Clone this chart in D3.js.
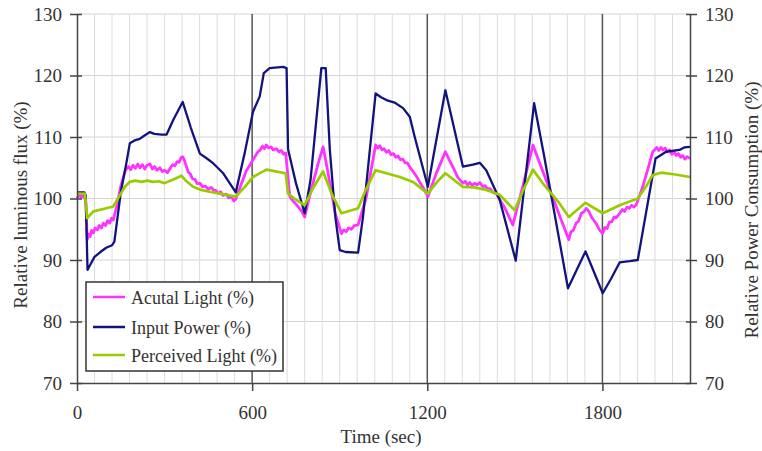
<!DOCTYPE html>
<html>
<head>
<meta charset="utf-8">
<script src="https://cdn.jsdelivr.net/npm/d3@7/dist/d3.min.js"></script>
<style>
  html, body { margin: 0; padding: 0; background: #fff; }
  svg { display: block; }
  text { font-family: "Liberation Serif", "DejaVu Serif", serif; fill: #333; }
</style>
</head>
<body>
<svg id="chart" width="762" height="451"></svg>
<script>
// Time axis (seconds) and value axis ticks
const xTicks = [0, 600, 1200, 1800];
const yTicks = [70, 80, 90, 100, 110, 120, 130];
const minorStep = 60;

// Series: [time (sec), value (%)]
const actualLight = [
  [0,100],[8,100.6],[15,100.2],[22,100.8],[30,99.5],[35,93.3],[40,94.2],[45,93.8],[50,94.8],[56,94.4],
  [62,95.2],[70,94.9],[76,95.6],[84,95.2],[90,96.0],[98,95.6],[105,96.4],[112,96.0],[118,96.8],[124,96.5],
  [135,98.5],[150,102],[165,104.5],[176,105.2],[184,104.7],[192,105.4],[200,104.9],[208,105.6],[216,105.0],
  [224,105.5],[232,104.8],[240,105.4],[250,105.6],[258,104.8],[266,105.2],[274,104.6],[284,105.0],
  [292,104.4],[300,104.6],[310,104.2],[320,105.0],[328,105.5],[335,105.3],[343,106.0],[350,105.9],
  [356,106.6],[362,106.8],[368,106.2],[374,105.3],[381,104.3],[388,104.0],[396,103.2],[404,103.1],
  [412,102.4],[421,102.5],[430,101.9],[440,102.0],[450,101.5],[460,101.8],[467,101.4],[476,101.3],
  [484,100.8],[492,101.1],[500,100.5],[512,100.7],[520,100.1],[530,100.3],[537,99.6],[544,99.9],
  [560,102],[580,104.5],[592,105.4],[603,106.3],[612,107],[620,107.6],[628,107.9],[635,108.5],[642,108.1],
  [649,108.7],[656,108.2],[665,108.4],[672,107.9],[683,108.1],[692,107.6],[700,107.8],[708,107.2],
  [715,107.4],[729,100.3],[740,99.6],[750,99.1],[760,98.5],[770,97.9],[780,97],[800,101],[825,105.5],
  [843,108.4],[855,105.5],[866,102.5],[885,97.5],[906,94.3],[914,94.9],[922,94.6],[930,95.2],[940,95.0],
  [950,95.6],[963,95.7],[990,100],[1023,108.7],[1030,108.2],[1037,108.6],[1045,107.9],[1052,108.1],
  [1060,107.5],[1068,107.8],[1076,107.1],[1084,107.3],[1092,106.7],[1100,106.9],[1108,106.3],[1116,106.4],
  [1124,105.8],[1132,105.8],[1140,105.1],[1151,104.4],[1163,103.6],[1175,102.6],[1188,101.6],[1202,100.3],
  [1230,104],[1262,107.6],[1276,106.2],[1290,104.9],[1305,103.4],[1322,102.5],[1330,102.8],[1338,102.2],
  [1346,102.6],[1354,102.1],[1362,102.5],[1370,102.2],[1380,102.6],[1390,101.9],[1398,102.1],[1405,101.6],
  [1415,101.6],[1425,101.0],[1436,100.8],[1465,98.5],[1493,95.7],[1530,102.5],[1562,108.7],[1580,106.4],
  [1600,103.9],[1620,101.4],[1640,98.9],[1660,96.4],[1685,93.3],[1692,94.6],[1700,94.8],[1710,96],
  [1718,96.3],[1728,97.6],[1736,97.8],[1745,98.4],[1755,97.8],[1762,97.0],[1770,96.5],[1780,95.8],
  [1790,94.9],[1801,94.3],[1808,95.3],[1816,95.1],[1824,96.2],[1832,96.2],[1840,97.0],[1848,96.9],
  [1859,97.6],[1868,98.2],[1876,97.9],[1884,98.6],[1892,98.4],[1900,98.9],[1908,98.6],[1916,99.0],
  [1938,101.9],[1960,105.5],[1972,107.6],[1979,107.9],[1986,108.3],[1993,107.8],[2000,108.3],[2007,107.9],
  [2015,108.2],[2022,107.6],[2030,107.9],[2038,107.2],[2046,107.5],[2053,107.0],[2060,107.3],[2068,106.7],
  [2075,107.0],[2083,106.4],[2090,106.8],[2100,106.5]
];

const inputPower = [
  [0,101],[25,101],[30,100.5],[36,88.4],[45,89.2],[60,90.5],[80,91.3],[100,92],[120,92.4],[128,93],
  [150,101],[170,106],[181,109],[200,109.5],[215,109.7],[230,110.2],[250,110.8],[265,110.5],[290,110.4],
  [307,110.4],[330,112.8],[362,115.7],[390,111.5],[421,107.3],[445,106.5],[467,105.7],[501,104.1],
  [544,101],[575,107.5],[603,114.1],[626,116.6],[640,120.4],[660,121.2],[706,121.4],[718,121.2],
  [723,108],[750,102.5],[780,97.6],[800,103],[837,121.2],[852,121.2],[866,108],[885,97],[900,91.6],
  [920,91.3],[963,91.2],[980,97.1],[1023,117.1],[1040,116.5],[1060,116],[1088,115.6],[1117,114.7],
  [1140,113.3],[1157,110],[1202,101.9],[1262,117.6],[1322,105.2],[1356,105.5],[1380,105.8],[1402,104.6],
  [1448,99.8],[1503,89.9],[1566,115.5],[1600,107],[1682,85.4],[1742,91.4],[1801,84.6],[1830,87],
  [1859,89.6],[1893,89.8],[1921,90],[1982,106.5],[2018,107.6],[2064,107.9],[2080,108.3],[2100,108.4]
];

const perceivedLight = [
  [0,100.8],[27,100.8],[35,96.8],[56,97.9],[90,98.3],[124,98.7],[150,100.8],[164,101.9],[181,102.7],
  [200,102.9],[220,102.7],[240,102.9],[260,102.7],[280,102.8],[300,102.5],[330,103.1],[358,103.7],
  [375,102.8],[398,101.9],[425,101.4],[455,101.1],[500,100.7],[544,100.3],[575,101.9],[603,103.5],
  [630,104.2],[649,104.7],[680,104.4],[715,104.1],[723,100.8],[750,99.8],[780,98.9],[810,101.8],
  [843,104.4],[875,100.5],[906,97.6],[935,98],[963,98.4],[990,101.5],[1023,104.6],[1060,104.1],
  [1106,103.5],[1151,102.7],[1202,100.8],[1230,102.5],[1262,104.1],[1322,101.9],[1360,101.8],
  [1402,101.4],[1448,100.6],[1499,98.1],[1530,101.5],[1562,104.7],[1600,102.2],[1653,99.2],[1685,97],
  [1742,99.3],[1801,97.6],[1859,98.9],[1921,100],[1950,102],[1972,103.8],[2000,104.2],[2050,103.9],
  [2100,103.5]
];

const seriesNames = ["Acutal Light (%)", "Input Power (%)", "Perceived Light (%)"];
const seriesColors = ["#ff33ff", "#13137e", "#99cc00"];
const seriesWidths = [2.8, 2.3, 2.7];

const svg = d3.select("#chart");
const plotLeft = 77, plotRight = 690, plotTop = 14, plotBottom = 383;

const x = d3.scaleLinear().domain([0, 2100]).range([plotLeft, plotRight]);
const y = d3.scaleLinear().domain([70, 130]).range([plotBottom, plotTop]);

// Horizontal grid
svg.append("g").selectAll("line").data(yTicks.filter(v => v > 70)).join("line")
  .attr("x1", plotLeft).attr("x2", plotRight)
  .attr("y1", d => y(d)).attr("y2", d => y(d))
  .attr("stroke", "#d4d4d4").attr("stroke-width", 1);

// Vertical minor grid every 60 s
const minorX = d3.range(minorStep, 2100, minorStep).filter(t => t % 600 !== 0);
svg.append("g").selectAll("line").data(minorX).join("line")
  .attr("x1", d => x(d)).attr("x2", d => x(d))
  .attr("y1", plotTop).attr("y2", plotBottom)
  .attr("stroke", "#dcdcdc").attr("stroke-width", 1);

// Major vertical lines
svg.append("g").selectAll("line").data(xTicks.filter(t => t > 0)).join("line")
  .attr("x1", d => x(d)).attr("x2", d => x(d))
  .attr("y1", plotTop).attr("y2", plotBottom)
  .attr("stroke", "#555").attr("stroke-width", 1.5);

// Series lines
const line = d3.line().x(d => x(d[0])).y(d => y(d[1]));
[actualLight, inputPower, perceivedLight].forEach((s, i) => {
  svg.append("path").datum(s)
    .attr("fill", "none")
    .attr("stroke", seriesColors[i])
    .attr("stroke-width", seriesWidths[i])
    .attr("stroke-linejoin", "round")
    .attr("d", line);
});

// Axes
const axisColor = "#444";
const gL = svg.append("g").attr("transform", `translate(${plotLeft},0)`)
  .call(d3.axisLeft(y).tickValues(yTicks).tickSizeInner(7).tickSizeOuter(0).tickPadding(8));
gL.selectAll(".tick line").attr("x1", 5);
const gR = svg.append("g").attr("transform", `translate(${plotRight},0)`)
  .call(d3.axisRight(y).tickValues(yTicks).tickSizeInner(7).tickSizeOuter(0).tickPadding(8));
gR.selectAll(".tick line").attr("x1", -4);
const gB = svg.append("g").attr("transform", `translate(0,${plotBottom})`)
  .call(d3.axisBottom(x).tickValues(xTicks).tickFormat(d3.format("d"))
    .tickSizeInner(8).tickSizeOuter(0).tickPadding(17));

[gL, gR, gB].forEach(g => {
  g.select(".domain").attr("stroke", axisColor).attr("stroke-width", 1.5);
  g.selectAll(".tick line").attr("stroke", axisColor).attr("stroke-width", 1.5);
  g.selectAll(".tick text").attr("font-size", 19).attr("font-family", "Liberation Serif").attr("fill", "#333");
});
gB.selectAll(".tick text").attr("dy", "0.6em");

// Axis titles
svg.append("text").attr("x", 381).attr("y", 443).attr("text-anchor", "middle")
  .attr("font-size", 19).text("Time (sec)");
svg.append("text").attr("transform", "translate(27,205) rotate(-90)").attr("text-anchor", "middle")
  .attr("font-size", 19).text("Relative luminous flux (%)");
svg.append("text").attr("transform", "translate(758,210) rotate(-90)").attr("text-anchor", "middle")
  .attr("font-size", 19).text("Relative Power Consumption (%)");

// Legend
const lg = svg.append("g");
lg.append("rect").attr("x", 86).attr("y", 282).attr("width", 197).attr("height", 89)
  .attr("fill", "#fff").attr("stroke", "#333").attr("stroke-width", 1.5);
const legendY = [297, 327, 355];
seriesNames.forEach((name, i) => {
  lg.append("line").attr("x1", 93).attr("x2", 125).attr("y1", legendY[i]).attr("y2", legendY[i])
    .attr("stroke", seriesColors[i]).attr("stroke-width", 2.5);
  lg.append("text").attr("x", 131).attr("y", legendY[i] + 7).attr("font-size", 18).text(name);
});
</script>
</body>
</html>
